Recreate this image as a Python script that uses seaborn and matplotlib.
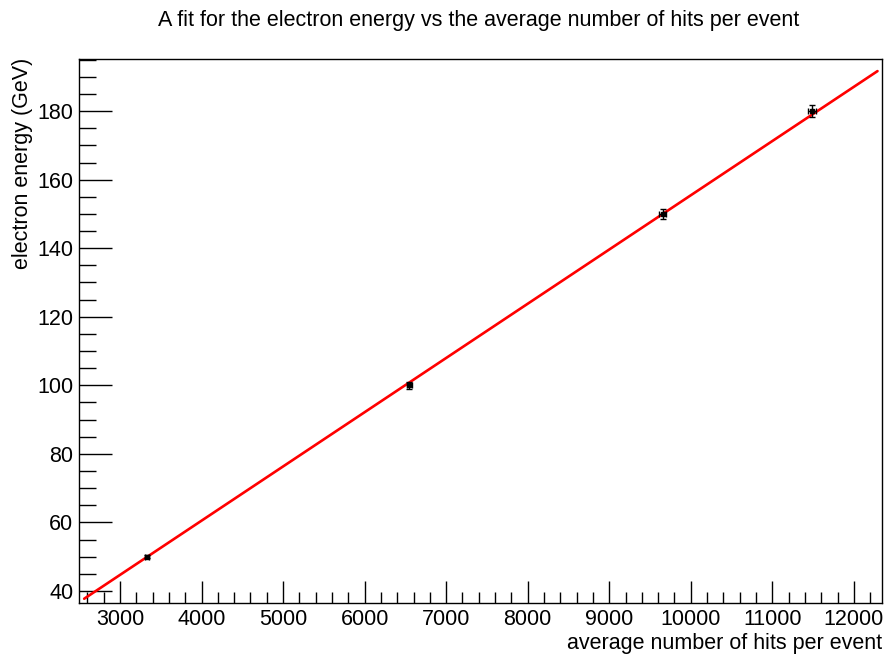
import numpy as np
import pandas as pd
import matplotlib
matplotlib.use("Agg")
import matplotlib.pyplot as plt
from matplotlib.ticker import MultipleLocator
import seaborn as sns

hits = [3332, 6549, 9655, 11487]
hits_err = [25, 30, 40, 45]
energy = [50, 100, 150, 180]
energy_err = [0.5, 1.0, 1.5, 1.8]

# linear fit parameters and the range it is drawn over
fit_slope = 0.01582
fit_offset = -2.76
fit_range = [2560, 12290]

x_ticks = [3000, 4000, 5000, 6000, 7000, 8000, 9000, 10000, 11000, 12000]
y_ticks = [40, 60, 80, 100, 120, 140, 160, 180]

sns.set_style("ticks")
plt.rcParams["font.family"] = ["Liberation Sans", "DejaVu Sans"]
plt.rcParams["text.color"] = "black"

fig = plt.figure(figsize=(8.85, 6.54), dpi=100)
ax = fig.add_axes([0.0893, 0.078, 0.9073, 0.8318])

fit_x = np.linspace(fit_range[0], fit_range[1], 50)
df_fit = pd.DataFrame({"x": fit_x, "y": fit_offset + fit_slope * fit_x})
sns.lineplot(data=df_fit, x="x", y="y", color="#ff0000", linewidth=1.9, ax=ax, zorder=2)

ax.errorbar(hits, energy, xerr=hits_err, yerr=energy_err, fmt="s", color="black",
            markersize=2.5, elinewidth=1.0, capsize=2.5, capthick=1.0, zorder=3)

ax.set_xlim(2497, 12345)
ax.set_ylim(36.5, 195.2)
ax.set_xticks(x_ticks)
ax.set_yticks(y_ticks)
ax.xaxis.set_minor_locator(MultipleLocator(200))
ax.yaxis.set_minor_locator(MultipleLocator(5))

ax.tick_params(axis="both", which="both", direction="in", top=False, right=False,
               labelsize=15.5, colors="black", labelcolor="black", width=1.0)
ax.tick_params(axis="x", which="major", length=16, pad=4)
ax.tick_params(axis="x", which="minor", length=8)
ax.tick_params(axis="y", which="major", length=24, pad=4)
ax.tick_params(axis="y", which="minor", length=12)

for side in ["left", "right", "top", "bottom"]:
    ax.spines[side].set_visible(True)
    ax.spines[side].set_color("black")
    ax.spines[side].set_linewidth(1.0)

ax.set_xlabel("")
ax.set_ylabel("")
fig.text(0.9966, 0.016, "average number of hits per event", ha="right", va="center",
         fontsize=15.5, color="black")
fig.text(0.025, 0.912, "electron energy (GeV)", ha="center", va="top", rotation=90,
         fontsize=15.5, color="black")
fig.text(0.541, 0.969, "A fit for the electron energy vs the average number of hits per event",
         ha="center", va="center", fontsize=15.5, color="black")

fig.savefig("out.png", dpi=100)
